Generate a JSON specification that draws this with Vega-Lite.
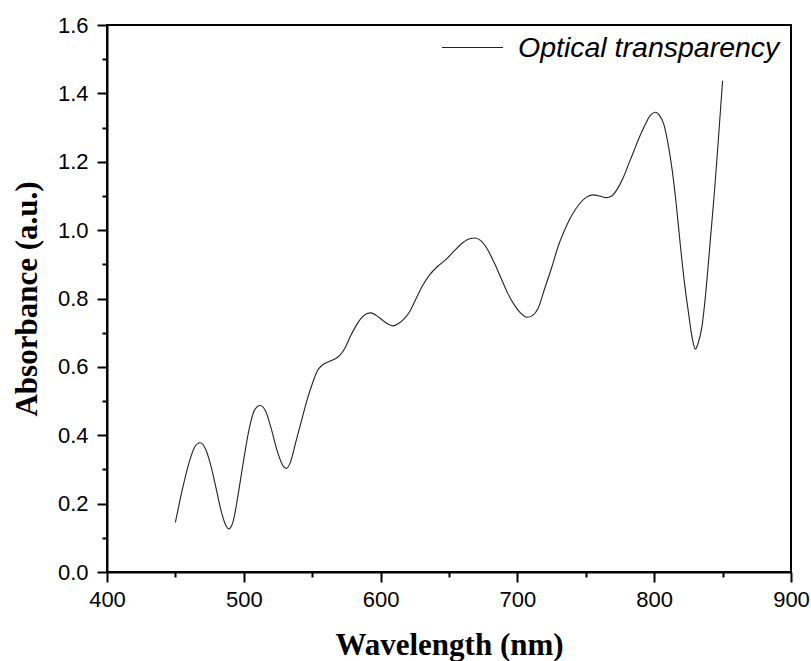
{
  "$schema": "https://vega.github.io/schema/vega-lite/v6.json",
  "width": 684,
  "height": 547,
  "autosize": {"type": "none"},
  "padding": {"left": 107, "top": 25, "right": 20, "bottom": 89},
  "background": "white",
  "config": {
    "view": {"stroke": "black", "strokeWidth": 2},
    "font": "Liberation Sans"
  },
  "data": {
    "values": [
      {"w": 450, "a": 0.145}, {"w": 455, "a": 0.24}, {"w": 460, "a": 0.32}, {"w": 464, "a": 0.365},
      {"w": 468, "a": 0.378}, {"w": 472, "a": 0.36}, {"w": 476, "a": 0.31}, {"w": 480, "a": 0.24},
      {"w": 484, "a": 0.17}, {"w": 487, "a": 0.135}, {"w": 489, "a": 0.126}, {"w": 492, "a": 0.145},
      {"w": 496, "a": 0.23}, {"w": 500, "a": 0.33}, {"w": 504, "a": 0.42}, {"w": 508, "a": 0.475},
      {"w": 512, "a": 0.487}, {"w": 516, "a": 0.47}, {"w": 520, "a": 0.42}, {"w": 524, "a": 0.36},
      {"w": 528, "a": 0.315}, {"w": 531, "a": 0.303}, {"w": 534, "a": 0.32}, {"w": 538, "a": 0.38},
      {"w": 542, "a": 0.44}, {"w": 546, "a": 0.5}, {"w": 550, "a": 0.55}, {"w": 554, "a": 0.59},
      {"w": 558, "a": 0.607}, {"w": 562, "a": 0.615}, {"w": 566, "a": 0.622}, {"w": 570, "a": 0.633},
      {"w": 574, "a": 0.655}, {"w": 578, "a": 0.69}, {"w": 582, "a": 0.72}, {"w": 586, "a": 0.743},
      {"w": 590, "a": 0.756}, {"w": 593, "a": 0.758}, {"w": 597, "a": 0.75}, {"w": 601, "a": 0.738},
      {"w": 605, "a": 0.726}, {"w": 609, "a": 0.72}, {"w": 613, "a": 0.727}, {"w": 617, "a": 0.74},
      {"w": 621, "a": 0.76}, {"w": 626, "a": 0.8}, {"w": 631, "a": 0.84}, {"w": 636, "a": 0.87},
      {"w": 642, "a": 0.895}, {"w": 648, "a": 0.915}, {"w": 654, "a": 0.94}, {"w": 660, "a": 0.963},
      {"w": 665, "a": 0.975}, {"w": 669, "a": 0.977}, {"w": 673, "a": 0.97}, {"w": 678, "a": 0.945},
      {"w": 683, "a": 0.905}, {"w": 688, "a": 0.86}, {"w": 693, "a": 0.815}, {"w": 698, "a": 0.78},
      {"w": 703, "a": 0.755}, {"w": 707, "a": 0.745}, {"w": 711, "a": 0.75}, {"w": 715, "a": 0.77},
      {"w": 720, "a": 0.83}, {"w": 725, "a": 0.89}, {"w": 730, "a": 0.955}, {"w": 735, "a": 1.005},
      {"w": 740, "a": 1.045}, {"w": 745, "a": 1.075}, {"w": 750, "a": 1.095}, {"w": 755, "a": 1.103},
      {"w": 760, "a": 1.1}, {"w": 765, "a": 1.095}, {"w": 769, "a": 1.1}, {"w": 773, "a": 1.12},
      {"w": 777, "a": 1.15}, {"w": 781, "a": 1.19}, {"w": 785, "a": 1.23}, {"w": 789, "a": 1.27},
      {"w": 793, "a": 1.305}, {"w": 797, "a": 1.335}, {"w": 801, "a": 1.345}, {"w": 804, "a": 1.335},
      {"w": 807, "a": 1.31}, {"w": 810, "a": 1.255}, {"w": 813, "a": 1.18}, {"w": 816, "a": 1.08},
      {"w": 819, "a": 0.96}, {"w": 822, "a": 0.85}, {"w": 825, "a": 0.76}, {"w": 828, "a": 0.68},
      {"w": 830, "a": 0.652}, {"w": 832, "a": 0.668}, {"w": 835, "a": 0.72}, {"w": 838, "a": 0.83},
      {"w": 841, "a": 0.97}, {"w": 844, "a": 1.11}, {"w": 847, "a": 1.27}, {"w": 850, "a": 1.437}
    ]
  },
  "mark": {"type": "line", "interpolate": "monotone", "strokeWidth": 1.1},
  "encoding": {
    "x": {
      "field": "w",
      "type": "quantitative",
      "scale": {"domain": [400, 900], "nice": false, "zero": false},
      "axis": {
        "title": "Wavelength (nm)",
        "values": [400, 450, 500, 550, 600, 650, 700, 750, 800, 850, 900],
        "labelExpr": "datum.value % 100 === 0 ? datum.label : ''",
        "format": "d",
        "grid": false,
        "domainColor": "black",
        "domainWidth": 2,
        "tickColor": "black",
        "tickWidth": 2,
        "tickSize": {"condition": {"test": "datum.value % 100 === 0", "value": 10}, "value": 5},
        "labelPadding": 7,
        "labelFont": "Liberation Sans",
        "labelFontSize": 22,
        "labelColor": "black",
        "labelFlush": false,
        "labelOverlap": false,
        "titleFont": "Liberation Serif",
        "titleFontWeight": "bold",
        "titleFontSize": 31,
        "titleColor": "black",
        "titleBaseline": "alphabetic",
        "titleY": 82
      }
    },
    "y": {
      "field": "a",
      "type": "quantitative",
      "scale": {"domain": [0, 1.6], "nice": false},
      "axis": {
        "title": "Absorbance (a.u.)",
        "values": [0, 0.1, 0.2, 0.3, 0.4, 0.5, 0.6, 0.7, 0.8, 0.9, 1.0, 1.1, 1.2, 1.3, 1.4, 1.5, 1.6],
        "labelExpr": "round(datum.value * 10) % 2 === 0 ? format(datum.value, '.1f') : ''",
        "grid": false,
        "domainColor": "black",
        "domainWidth": 2,
        "tickColor": "black",
        "tickWidth": 2,
        "tickSize": {"condition": {"test": "round(datum.value * 10) % 2 === 0", "value": 10}, "value": 5},
        "labelPadding": 9,
        "labelFont": "Liberation Sans",
        "labelFontSize": 22,
        "labelColor": "black",
        "labelFlush": false,
        "labelOverlap": false,
        "titleFont": "Liberation Serif",
        "titleFontWeight": "bold",
        "titleFontSize": 31,
        "titleColor": "black",
        "titleX": -80,
        "titleBaseline": "middle"
      }
    },
    "color": {
      "datum": "Optical transparency",
      "type": "nominal",
      "scale": {"range": ["#222222"]},
      "legend": {
        "title": null,
        "orient": "none",
        "legendX": 334,
        "legendY": -9,
        "symbolType": "stroke",
        "symbolSize": 3721,
        "symbolStrokeWidth": 1.1,
        "labelFont": "Liberation Sans",
        "labelFontStyle": "italic",
        "labelFontSize": 28.5,
        "labelColor": "black",
        "labelOffset": 14,
        "labelLimit": 400
      }
    }
  }
}
